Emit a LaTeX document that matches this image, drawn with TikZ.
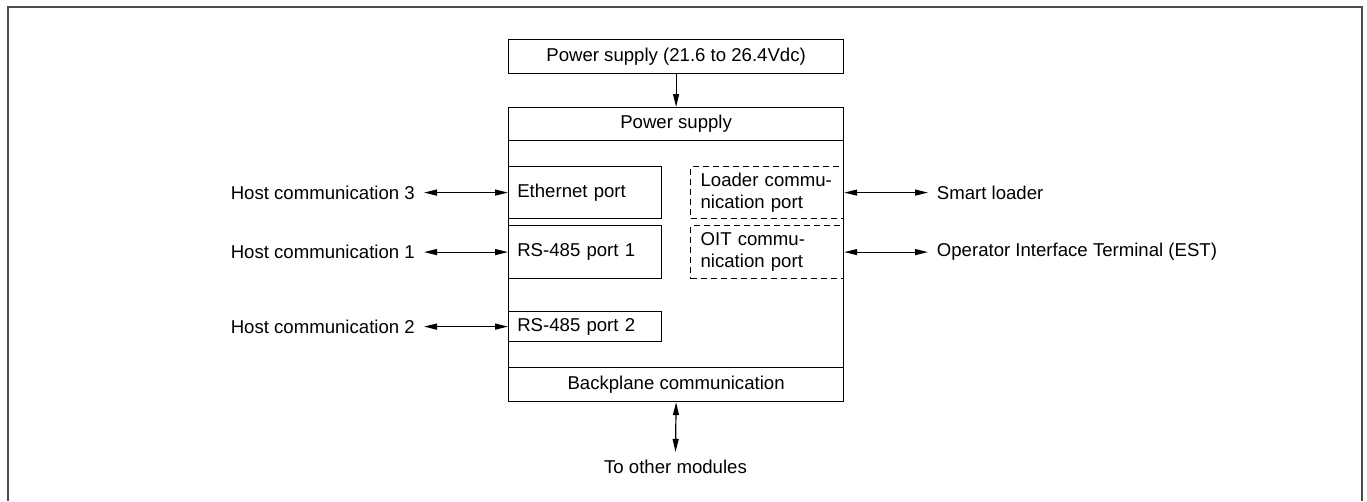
\documentclass[tikz,border=0pt]{standalone}
\usepackage{fontspec}
\setmainfont{Liberation Sans}
\usetikzlibrary{arrows.meta}
\tikzset{
  box/.style={draw=black, line width=1.2pt, anchor=north west, inner sep=0pt, font=\fontsize{18.6}{22}\selectfont},
  portbox/.style={box, text width=135.6pt, inner xsep=8.7pt, align=left, minimum width=153pt},
  dportbox/.style={box, dash pattern=on 6pt off 4pt, text width=133pt, inner xsep=10pt, align=left, minimum width=153pt},
  lbl/.style={font=\fontsize{18.6}{22}\selectfont, inner ysep=0pt},
  conn/.style={line width=1.2pt, {Triangle[length=13pt,width=6pt]}-{Triangle[length=13pt,width=6pt]}},
  feed/.style={line width=1.2pt, -{Triangle[length=13pt,width=6pt]}},
  frame/.style={draw=black!70, line width=2pt}
}
\begin{document}
\begin{tikzpicture}[x=1pt,y=-1pt]
\useasboundingbox (0,0) rectangle (1367,501);
\draw[frame] (7.5,501) -- (7.5,7.3) -- (1362,7.3) -- (1362,501);

\node[box, minimum width=335pt, minimum height=34pt] (top) at (508,39) {Power supply (21.6 to 26.4Vdc)};
\node[box, minimum width=335pt, minimum height=294pt] (main) at (508,107) {};
\node[box, minimum width=335pt, minimum height=33pt] (psu) at (508,107) {Power supply};
\node[box, minimum width=335pt, minimum height=34pt] (bp) at (508,367) {Backplane communication};

\node[portbox, minimum height=52pt] (eth) at (508,166) {Ethernet port};
\node[portbox, minimum height=53pt] (rs1) at (508,225) {RS-485 port 1};
\node[portbox, minimum height=30pt] (rs2) at (508,311) {RS-485 port 2};
\node[dportbox, minimum height=52pt] (ldr) at (690,166) {Loader commu-\\nication port};
\node[dportbox, minimum height=53pt] (oit) at (690,225) {OIT commu-\\nication port};

\node[lbl, anchor=east, inner xsep=9pt] (h3) at (eth.west -| 424,0) {Host communication 3};
\node[lbl, anchor=east, inner xsep=9pt] (h1) at (rs1.west -| 424,0) {Host communication 1};
\node[lbl, anchor=east, inner xsep=9pt] (h2) at (rs2.west -| 424,0) {Host communication 2};
\node[lbl, anchor=west, inner xsep=8.7pt] (sl) at (ldr.east -| 928,0) {Smart loader};
\node[lbl, anchor=west, inner xsep=8.7pt] (op) at (oit.east -| 928,0) {Operator Interface Terminal (EST)};
\node[lbl, anchor=base, inner ysep=7.7pt] (tom) at (675.5,473.3) {To other modules};

\draw[feed] (top.south) -- (psu.north);
\draw[conn] (h3.east) -- (eth.west);
\draw[conn] (h1.east) -- (rs1.west);
\draw[conn] (h2.east) -- (rs2.west);
\draw[conn] (ldr.east) -- (sl.west);
\draw[conn] (oit.east) -- (op.west);
\draw[conn] (bp.south) -- (tom.north);
\end{tikzpicture}
\end{document}
